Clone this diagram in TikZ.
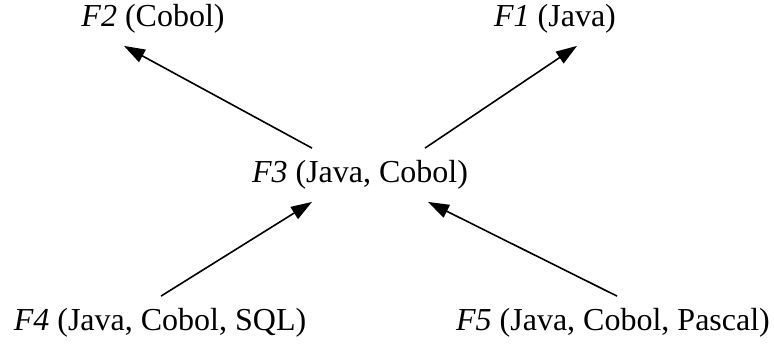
\documentclass[tikz,border=0pt]{standalone}
\usepackage{fontspec}
\setmainfont{Liberation Serif}
\usepackage{tikz}
\usetikzlibrary{arrows.meta,positioning}

\begin{document}
\begin{tikzpicture}[
    x=0.5pt, y=-0.5pt,
    frag/.style={inner sep=6pt, font=\fontsize{16}{19}\selectfont},
    arrow/.style={-{Triangle[length=10.5pt,width=7pt]}, line width=0.8pt}
]
\useasboundingbox (0,0) rectangle (774,343);
\node[frag] (f2) at (153,19) {\textit{F2} (Cobol)};
\node[frag] (f1) at (555,19) {\textit{F1} (Java)};
\node[frag] (f3) at (360,175) {\textit{F3} (Java, Cobol)};
\node[frag] (f4) at (160,323) {\textit{F4} (Java, Cobol, SQL)};
\node[frag] (f5) at (613,323) {\textit{F5} (Java, Cobol, Pascal)};
\draw[arrow] ([xshift=-24pt]f3.north) -- ([xshift=-14.5pt]f2.south);
\draw[arrow] ([xshift=32.5pt]f3.north) -- ([xshift=11pt]f1.south);
\draw[arrow] ([xshift=0.5pt]f4.north) -- ([xshift=-24pt]f3.south);
\draw[arrow] ([xshift=2pt]f5.north) -- ([xshift=34pt]f3.south);
\end{tikzpicture}
\end{document}
